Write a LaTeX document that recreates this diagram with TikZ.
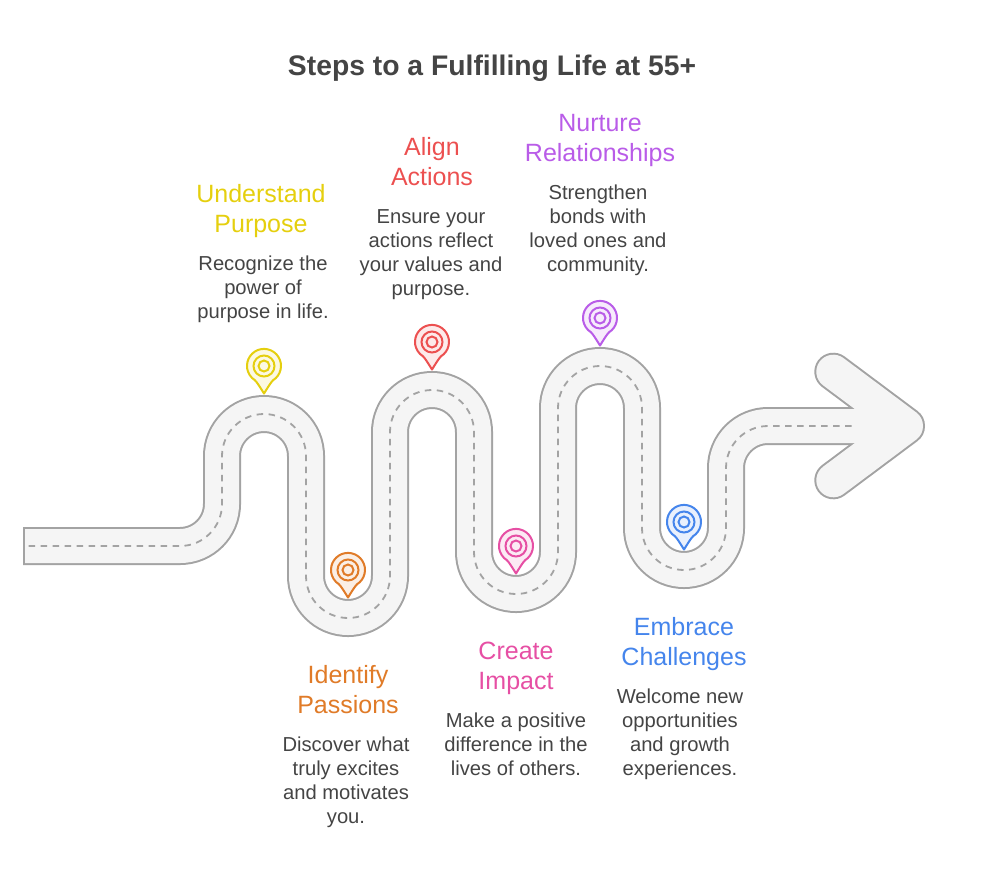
\documentclass[tikz,border=0pt]{standalone}
\usepackage{fontspec}
\setmainfont{Liberation Sans}
\usetikzlibrary{positioning}

\definecolor{roadline}{HTML}{A3A3A3}
\definecolor{roadfill}{HTML}{F5F5F5}
\definecolor{inktext}{HTML}{444444}
\definecolor{pinyellow}{HTML}{E5CF0E}
\definecolor{pinorange}{HTML}{E07B28}
\definecolor{pinred}{HTML}{EC5050}
\definecolor{pinpink}{HTML}{E64FA4}
\definecolor{pinpurple}{HTML}{B95CE8}
\definecolor{pinblue}{HTML}{4585EC}

\newcommand{\roadpath}{(180,546) arc[start angle=-90, end angle=0, radius=42pt]
    -- (222,456) arc[start angle=180, end angle=0, radius=42pt]
    -- (306,576) arc[start angle=180, end angle=360, radius=42pt]
    -- (390,432) arc[start angle=180, end angle=0, radius=42pt]
    -- (474,552) arc[start angle=180, end angle=360, radius=42pt]
    -- (558,408) arc[start angle=180, end angle=0, radius=42pt]
    -- (642,528) arc[start angle=180, end angle=360, radius=42pt]
    -- (726,468) arc[start angle=180, end angle=90, radius=42pt]}

\tikzset{
    heading/.style={inner sep=0pt, align=center, font=\fontsize{25}{30}\selectfont},
    blurb/.style={inner sep=0pt, align=center, text=inktext, font=\fontsize{20.2}{24}\selectfont},
    pics/pinmark/.style={code={
        \draw[#1, line width=2pt, line join=round, fill=#1!12]
            (9,14.3) arc[start angle=-58, end angle=238, radius=17pt]
            .. controls (-6.5,17) and (-5,19.5) .. (0,27.5)
            .. controls (5,19.5) and (6.5,17) .. cycle;
        \draw[#1, line width=2pt] (0,0) circle[radius=10.5pt];
        \draw[#1, line width=2pt] (0,0) circle[radius=5.5pt];
    }}
}

\begin{document}
\begin{tikzpicture}[x=1pt, y=-1pt]
    \useasboundingbox (0,0) rectangle (984,876);

    % Road
    \draw[roadline, line width=38pt] (23,546) -- \roadpath -- (906,426);
    \draw[roadline, line width=38pt, line join=round, line cap=round] (833.3,371.7) -- (906,426) -- (833.3,480.3);
    \draw[roadfill, line width=34pt] (25,546) -- \roadpath -- (906,426);
    \draw[roadfill, line width=34pt, line join=round, line cap=round] (833.3,371.7) -- (906,426) -- (833.3,480.3);
    \draw[roadline, line width=1.8pt, dash pattern=on 6.5pt off 5.5pt] (28.5,546) -- \roadpath -- (852,426);

    % Pins
    \pic at (264,366) {pinmark=pinyellow};
    \pic at (348,570) {pinmark=pinorange};
    \pic at (432,342) {pinmark=pinred};
    \pic at (516,546) {pinmark=pinpink};
    \pic at (600,318) {pinmark=pinpurple};
    \pic at (684,522) {pinmark=pinblue};

    % Texts
    \node[text=inktext, font=\fontsize{28.3}{34}\selectfont\bfseries] (title) at (492,68) {Steps to a Fulfilling Life at 55+};

    \node[heading, text=pinyellow] (understand) at (261,213) {Understand\\Purpose\strut};
    \node[blurb, below=12pt of understand, xshift=2pt] (understandtext) {\strut Recognize the\\power of\\purpose in life.};

    \node[heading, text=pinorange] (identify) at (348,694) {Identify\\Passions\strut};
    \node[blurb, below=12pt of identify, xshift=-2pt] (identifytext) {\strut Discover what\\truly excites\\and motivates\\you.};

    \node[heading, text=pinred] (align) at (432,166) {Align\\Actions\strut};
    \node[blurb, below=12pt of align, xshift=-1pt] (aligntext) {\strut Ensure your\\actions reflect\\your values and\\purpose.};

    \node[heading, text=pinpink] (create) at (516,670) {Create\\Impact\strut};
    \node[blurb, below=12pt of create] (createtext) {\strut Make a positive\\difference in the\\lives of others.};

    \node[heading, text=pinpurple] (nurture) at (600,142) {Nurture\\Relationships\strut};
    \node[blurb, below=12pt of nurture, xshift=-2pt] (nurturetext) {\strut Strengthen\\bonds with\\loved ones and\\community.};

    \node[heading, text=pinblue] (embrace) at (684,646) {Embrace\\Challenges\strut};
    \node[blurb, below=12pt of embrace, xshift=-4pt] (embracetext) {\strut Welcome new\\opportunities\\and growth\\experiences.};
\end{tikzpicture}
\end{document}
